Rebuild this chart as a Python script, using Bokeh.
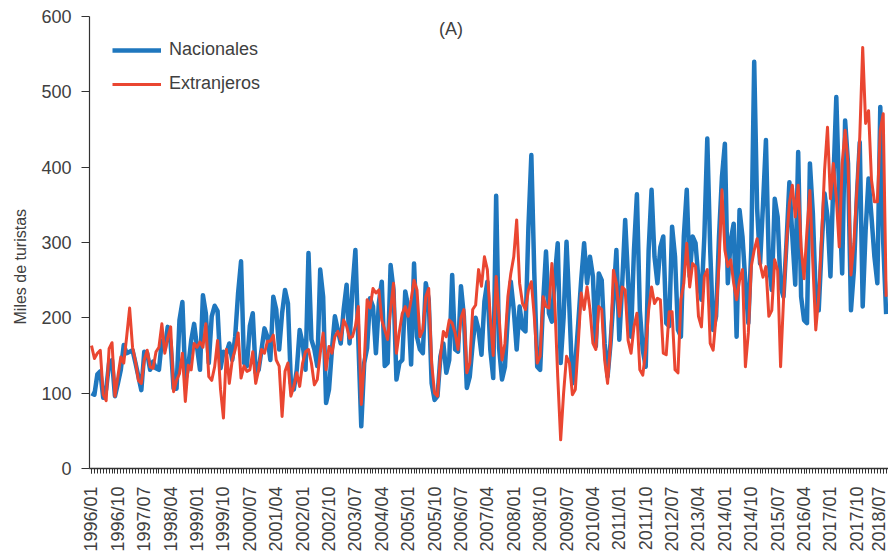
import math
from bokeh.plotting import figure
from bokeh.models import FixedTicker, Range1d, Label, Legend, LegendItem, Title
from bokeh.embed import file_html
from bokeh.resources import INLINE

# Monthly values (miles de turistas), 1996/01 .. 2018/08
nacionales = [
    100, 98, 125, 129, 94, 105, 140, 144, 96, 113, 131, 164,      # 1996
    153, 155, 157, 140, 122, 104, 155, 153, 131, 142, 133, 131,   # 1997
    170, 159, 188, 166, 106, 106, 197, 221, 117, 135, 170, 192,   # 1998
    161, 131, 230, 206, 140, 202, 216, 209, 133, 155, 153, 166,   # 1999
    144, 175, 233, 275, 140, 136, 189, 206, 127, 131, 158, 186,   # 2000
    175, 144, 228, 211, 158, 206, 237, 219, 113, 105, 131, 184,   # 2001
    166, 131, 286, 171, 158, 136, 264, 228, 87, 105, 158, 202,    # 2002
    184, 166, 211, 244, 166, 240, 290, 170, 56, 140, 160, 226,    # 2003
    215, 153, 220, 248, 136, 140, 270, 237, 118, 140, 144, 235,   # 2004
    215, 138, 272, 175, 158, 153, 246, 224, 113, 91, 96, 149,     # 2005
    166, 127, 144, 257, 158, 155, 242, 202, 107, 122, 166, 200,   # 2006
    184, 151, 222, 248, 158, 120, 362, 160, 118, 135, 202, 248,   # 2007
    211, 158, 215, 186, 182, 320, 416, 260, 135, 131, 219, 288,   # 2008
    206, 195, 255, 299, 140, 200, 301, 211, 113, 140, 193, 250,   # 2009
    299, 246, 281, 255, 162, 259, 250, 166, 122, 166, 224, 290,   # 2010
    171, 246, 330, 250, 175, 290, 364, 210, 157, 135, 290, 370,   # 2011
    281, 246, 294, 308, 193, 189, 321, 281, 184, 175, 308, 370,   # 2012
    255, 308, 299, 250, 224, 308, 438, 290, 184, 202, 308, 387,   # 2013
    431, 246, 303, 325, 175, 343, 308, 246, 193, 290, 540, 345,   # 2014
    272, 350, 436, 272, 237, 358, 334, 241, 228, 299, 380, 308,   # 2015
    244, 420, 228, 197, 193, 405, 339, 228, 210, 294, 365, 334,   # 2016
    255, 382, 493, 360, 259, 462, 405, 210, 263, 360, 433, 215,   # 2017
    316, 385, 334, 281, 246, 480, 300, 205,                       # 2018
]

extranjeros = [
    163, 146, 153, 157, 98, 90, 159, 167, 96, 122, 148, 140,      # 1996
    175, 213, 161, 142, 117, 113, 144, 157, 135, 133, 155, 161,   # 1997
    192, 153, 173, 188, 102, 117, 126, 153, 89, 137, 131, 166,    # 1998
    161, 168, 161, 192, 122, 117, 135, 170, 105, 67, 158, 113,    # 1999
    144, 158, 180, 120, 136, 129, 131, 155, 113, 131, 158, 153,   # 2000
    169, 169, 177, 144, 136, 69, 129, 140, 96, 109, 127, 109,     # 2001
    140, 155, 158, 140, 111, 118, 153, 180, 131, 162, 153, 175,   # 2002
    182, 171, 197, 189, 173, 175, 189, 215, 85, 140, 224, 213,    # 2003
    239, 233, 237, 197, 184, 171, 211, 246, 153, 182, 206, 215,   # 2004
    202, 224, 250, 237, 175, 184, 228, 239, 140, 100, 96, 149,    # 2005
    182, 175, 197, 193, 180, 158, 200, 211, 127, 140, 211, 217,   # 2006
    264, 242, 281, 264, 200, 150, 255, 202, 144, 166, 228, 259,   # 2007
    281, 330, 246, 219, 211, 237, 248, 202, 140, 149, 228, 215,   # 2008
    213, 272, 219, 122, 38, 100, 149, 140, 98, 105, 166, 233,     # 2009
    211, 241, 211, 166, 158, 215, 211, 144, 113, 166, 263, 246,   # 2010
    202, 241, 237, 170, 153, 188, 206, 131, 124, 157, 210, 241,   # 2011
    219, 226, 224, 153, 151, 208, 208, 131, 127, 224, 246, 299,   # 2012
    241, 272, 268, 202, 188, 255, 264, 166, 157, 202, 272, 370,   # 2013
    290, 268, 277, 246, 224, 250, 264, 135, 180, 268, 290, 305,   # 2014
    272, 254, 268, 202, 210, 277, 263, 135, 224, 299, 352, 376,   # 2015
    334, 376, 294, 252, 316, 369, 272, 184, 228, 307, 396, 453,   # 2016
    358, 405, 360, 294, 405, 449, 405, 257, 299, 369, 440, 559,   # 2017
    458, 475, 383, 354, 354, 449, 471, 228,                       # 2018
]

start_year = 1996
n_months = len(nacionales)
months = list(range(n_months))
tick_step = 9
tick_positions = list(range(0, n_months, tick_step))
tick_labels = {t: f"{start_year + t // 12}/{t % 12 + 1:02d}" for t in tick_positions}
y_ticks = [0, 100, 200, 300, 400, 500, 600]

BLUE = "#1F77BE"
RED = "#EA4631"
TXT = "#404040"
FONT = "Liberation Sans"

p = figure(width=888, height=554, output_backend="svg", toolbar_location=None,
           x_range=Range1d(-0.68, 271.8), y_range=Range1d(0, 600),
           min_border_left=89, min_border_right=0, min_border_top=16,
           min_border_bottom=85)
p.outline_line_color = None
p.xgrid.visible = False
p.ygrid.visible = False
p.background_fill_color = "white"

r_n = p.line(months, nacionales, line_width=4.5, color=BLUE, line_join="round")
r_e = p.line(months, extranjeros, line_width=3, color=RED, line_join="round")

# x axis
xa = p.xaxis[0]
xa.ticker = FixedTicker(ticks=tick_positions, minor_ticks=months)
xa.major_label_overrides = tick_labels
xa.major_label_orientation = math.pi / 2
xa.major_label_text_font = FONT
xa.major_label_text_font_size = "18px"
xa.major_label_text_color = TXT
xa.major_label_standoff = 13
xa.axis_line_color = "#333333"
xa.axis_line_width = 1.5
xa.major_tick_line_color = "#333333"
xa.minor_tick_line_color = "#333333"
xa.major_tick_out = 5
xa.major_tick_in = 0
xa.minor_tick_out = 5
xa.minor_tick_in = 0

# y axis
ya = p.yaxis[0]
ya.ticker = FixedTicker(ticks=y_ticks)
ya.major_label_text_font = FONT
ya.major_label_text_font_size = "18px"
ya.major_label_text_color = TXT
ya.major_label_standoff = 10
ya.axis_line_color = "#333333"
ya.axis_line_width = 1.2
ya.major_tick_line_color = "#333333"
ya.major_tick_out = 8
ya.major_tick_in = 0
ya.minor_tick_line_color = None

# y axis title (as a side title so it can be placed like the original)
ytitle = Title(text="Miles de turistas", align="left", offset=144,
               text_font=FONT, text_font_size="16px", text_font_style="normal",
               text_color=TXT, standoff=19)
p.add_layout(ytitle, "left")

legend = Legend(items=[LegendItem(label="Nacionales", renderers=[r_n]),
                       LegendItem(label="Extranjeros", renderers=[r_e])],
                location="top_left")
legend.margin = 23
legend.padding = 0
legend.spacing = 13
legend.glyph_width = 49
legend.glyph_height = 20
legend.label_height = 20
legend.label_standoff = 8
legend.label_text_font = FONT
legend.label_text_font_size = "18px"
legend.label_text_color = TXT
legend.border_line_color = None
legend.background_fill_alpha = 0
p.add_layout(legend)

p.add_layout(Label(x=122.6, y=583, text="(A)", text_align="center",
                   text_baseline="middle", text_font=FONT, text_font_size="18px",
                   text_color=TXT))

open("out.html", "w").write(file_html(p, INLINE))
